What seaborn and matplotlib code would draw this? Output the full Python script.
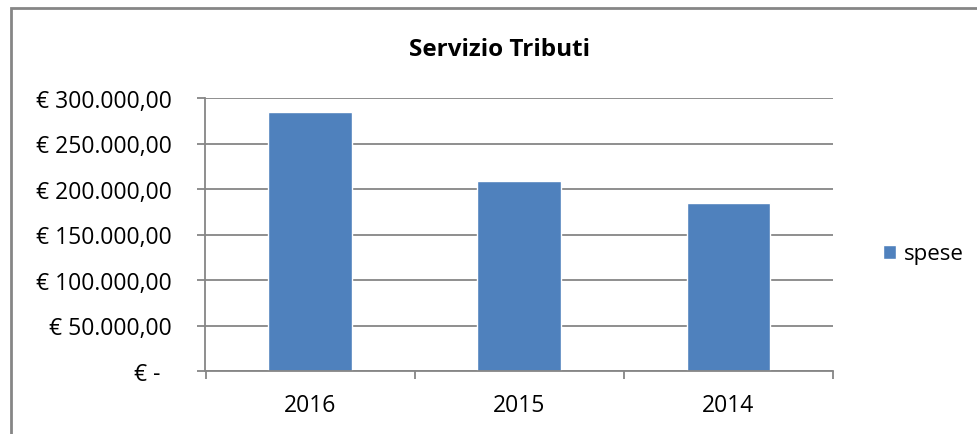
import numpy as np
import pandas as pd
import seaborn as sns
import matplotlib.pyplot as plt
from matplotlib.ticker import FuncFormatter, FixedLocator
from matplotlib.patches import Rectangle

anni = ["2016", "2015", "2014"]
spese = [284900, 208400, 184200]
serie = "spese"
yticks = [0, 50000, 100000, 150000, 200000, 250000, 300000]

df = pd.DataFrame({"anno": anni, "valore": spese, "serie": serie})

sns.set_theme(style="white")
plt.rcParams["font.family"] = ["Open Sans", "DejaVu Sans"]
plt.rcParams["text.color"] = "black"

grigio = "#868686"
blu = "#4F81BD"

fig = plt.figure(figsize=(9.78, 4.35), dpi=100)
ax = fig.add_axes([205.5 / 978, 1 - 372 / 435, (833 - 205.5) / 978, (372 - 99) / 435])

sns.barplot(data=df, x="anno", y="valore", hue="serie", palette=[blu],
            width=0.4, dodge=False, ax=ax, saturation=1, legend=True)


def euro(v, pos):
    # formato contabile: lo zero diventa un trattino
    if v == 0:
        return "€ -  "
    s = f"{v:,.2f}".replace(",", "X").replace(".", ",").replace("X", ".")
    return f"€ {s}"


ax.set_ylim(0, 300000)
ax.set_xlim(-0.5, 2.5)
ax.yaxis.set_major_locator(FixedLocator(yticks))
ax.yaxis.set_major_formatter(FuncFormatter(euro))
ax.grid(axis="y", color=grigio, linewidth=1.3)
ax.set_axisbelow(True)
for side in ["top", "right"]:
    ax.spines[side].set_visible(False)
for side in ["left", "bottom"]:
    ax.spines[side].set_color(grigio)
    ax.spines[side].set_linewidth(1.3)

ax.tick_params(axis="y", which="major", left=True, length=6, width=1.3,
               color=grigio, labelsize=16.5, pad=18, labelcolor="black")
ax.tick_params(axis="x", which="major", length=0, labelsize=16.5, pad=16,
               labelcolor="black")
ax.xaxis.set_minor_locator(FixedLocator([-0.5, 0.5, 1.5, 2.5]))
ax.tick_params(axis="x", which="minor", bottom=True, length=6, width=1.3,
               color=grigio)
ax.set_xlabel("")
ax.set_ylabel("")

leg = ax.legend(loc="center left", bbox_to_anchor=(883 / 978, 1 - 255 / 435),
                bbox_transform=fig.transFigure, frameon=False, fontsize=16,
                handlelength=0.6, handleheight=0.6, handletextpad=0.35,
                borderaxespad=0, borderpad=0)

fig.text(500 / 978, 1 - 50 / 435, "Servizio Tributi", ha="center", va="center",
         fontsize=17.5, fontweight="bold", color="black")

fig.patches.append(Rectangle((11 / 978, -0.1), 1.2, 1 - 9 / 435 + 0.1,
                             transform=fig.transFigure, fill=False,
                             edgecolor=grigio, linewidth=2))

fig.savefig("out.png", dpi=100)
